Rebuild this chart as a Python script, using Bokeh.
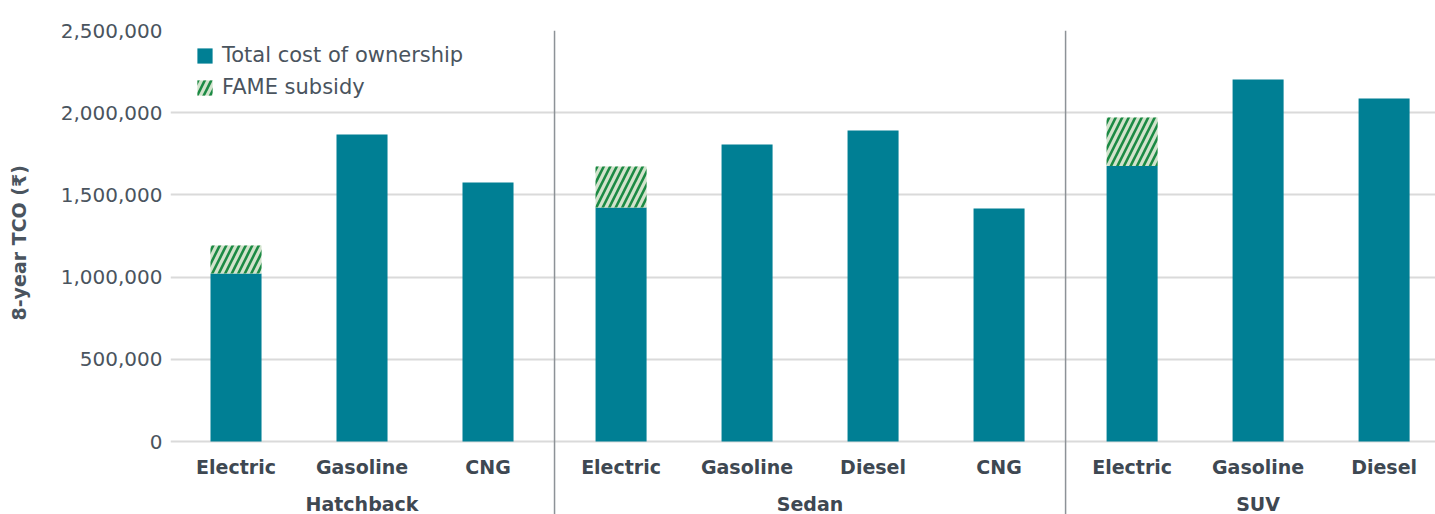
from bokeh.plotting import figure
from bokeh.models import (ColumnDataSource, FactorRange, Range1d, FixedTicker,
                          NumeralTickFormatter, Span, Title, Legend, LegendItem,
                          LinearAxis)
from bokeh.transform import dodge
from bokeh.core.properties import value
from bokeh.embed import file_html
from bokeh.resources import INLINE

# ---------------- data ----------------
groups = ["Hatchback", "Hatchback", "Hatchback",
          "Sedan", "Sedan", "Sedan", "Sedan",
          "SUV", "SUV", "SUV"]
fuels = ["Electric", "Gasoline", "CNG",
         "Electric", "Gasoline", "Diesel", "CNG",
         "Electric", "Gasoline", "Diesel"]
tco = [1022000, 1867000, 1575000,
       1423000, 1807000, 1892000, 1417000,
       1676000, 2202000, 2086000]
subsidy = [170000, 0, 0,
           250000, 0, 0, 0,
           295000, 0, 0]
y_ticks = [0, 500000, 1000000, 1500000, 2000000, 2500000]
group_names = ["Hatchback", "Sedan", "SUV"]

# ---------------- styles ----------------
FONT = "DejaVu Sans"
TEAL = "#007f94"
HATCH_BG = "#d2e3cc"
HATCH_FG = "#1c8a44"
TEXT = "#4a545e"
DARK = "#3e4852"
SEP = "#8d9297"
GRID = "#dadada"
GP = 0.056      # group padding
SHIFT = 0.056   # horizontal shift of the whole category layout
BAR_W = 0.405

factors = list(zip(groups, fuels))

x_range = FactorRange(*factors, group_padding=GP, factor_padding=0,
                      range_padding=-0.036, range_padding_units="absolute")
p = figure(width=1435, height=514, output_backend="svg", toolbar_location=None,
           x_range=x_range,
           y_range=Range1d(-444000, 2500000),
           x_axis_location=None,
           min_border_left=170, min_border_right=0, min_border_top=30,
           min_border_bottom=0)
p.outline_line_color = None
p.background_fill_color = "white"
p.border_fill_color = "white"

# y axis
ax = p.yaxis[0]
ax.ticker = FixedTicker(ticks=y_ticks)
ax.formatter = NumeralTickFormatter(format="0,0")
ax.axis_line_color = None
ax.major_tick_line_color = None
ax.minor_tick_line_color = None
ax.major_tick_out = 0
ax.major_tick_in = 0
ax.minor_tick_out = 0
ax.minor_tick_in = 0
ax.major_label_standoff = 8
ax.major_label_text_font = FONT
ax.major_label_text_font_size = "20px"
ax.major_label_text_color = TEXT

# blank spacer between the tick labels and the axis title
spacer = LinearAxis(ticker=FixedTicker(ticks=[-400000]), axis_line_color=None,
                    major_tick_line_color="white", minor_tick_line_color=None,
                    major_tick_out=22, major_tick_in=0, minor_tick_out=0,
                    minor_tick_in=0, major_label_standoff=0,
                    major_label_text_color=None)
p.add_layout(spacer, "left")

p.ygrid.ticker = FixedTicker(ticks=y_ticks)
p.ygrid.grid_line_color = GRID
p.ygrid.grid_line_width = 2
p.xgrid.visible = False

xs = dodge("x", SHIFT, range=x_range)

# bars
src = ColumnDataSource(dict(x=factors, tco=tco))
r1 = p.vbar(x=xs, top="tco", bottom=0, width=BAR_W, source=src,
            fill_color=TEAL, line_color=None)

sx = [f for f, s in zip(factors, subsidy) if s > 0]
sb = [t for t, s in zip(tco, subsidy) if s > 0]
st = [t + s for t, s in zip(tco, subsidy) if s > 0]
src2 = ColumnDataSource(dict(x=sx, bottom=sb, top=st))
r2 = p.vbar(x=xs, top="top", bottom="bottom", width=BAR_W, source=src2,
            fill_color=HATCH_BG, line_color=None,
            hatch_pattern="/", hatch_color=HATCH_FG, hatch_weight=2.6, hatch_scale=13)

# group separators (between groups, in synthetic coordinates)
sizes = [groups.count(g) for g in group_names]
cum = 0
for k, n in enumerate(sizes[:-1], start=1):
    cum += n
    loc = cum + (k - 0.5) * GP + SHIFT
    p.add_layout(Span(location=loc, dimension="height", line_color=SEP, line_width=1.5))

# category labels
lab = ColumnDataSource(dict(x=factors, y=[0] * len(factors), t=fuels))
p.text(x=xs, y="y", text="t", source=lab, text_align="center", text_baseline="middle",
       y_offset=25, text_font=value(FONT), text_font_style="bold",
       text_font_size="19px", text_color=DARK)
glab = ColumnDataSource(dict(x=group_names, y=[0] * len(group_names), t=group_names))
p.text(x=xs, y="y", text="t", source=glab, text_align="center", text_baseline="middle",
       y_offset=62, text_font=value(FONT), text_font_style="bold",
       text_font_size="19px", text_color=DARK)

# y axis title
p.add_layout(Title(text="8-year TCO (₹)", align="left", offset=194,
                   vertical_align="middle", standoff=9,
                   text_font=FONT, text_font_style="bold",
                   text_font_size="19px", text_color=TEXT), "left")

# legend
legend = Legend(items=[LegendItem(label="Total cost of ownership", renderers=[r1]),
                       LegendItem(label="FAME subsidy", renderers=[r2])],
                location=(25, 415), margin=0, padding=0,
                glyph_width=19, glyph_height=19, label_height=19, spacing=8,
                label_standoff=8,
                label_text_font=FONT, label_text_font_size="21px",
                label_text_color=TEXT,
                border_line_color=None, background_fill_alpha=0)
p.add_layout(legend)

open("out.html", "w").write(file_html(p, INLINE))
